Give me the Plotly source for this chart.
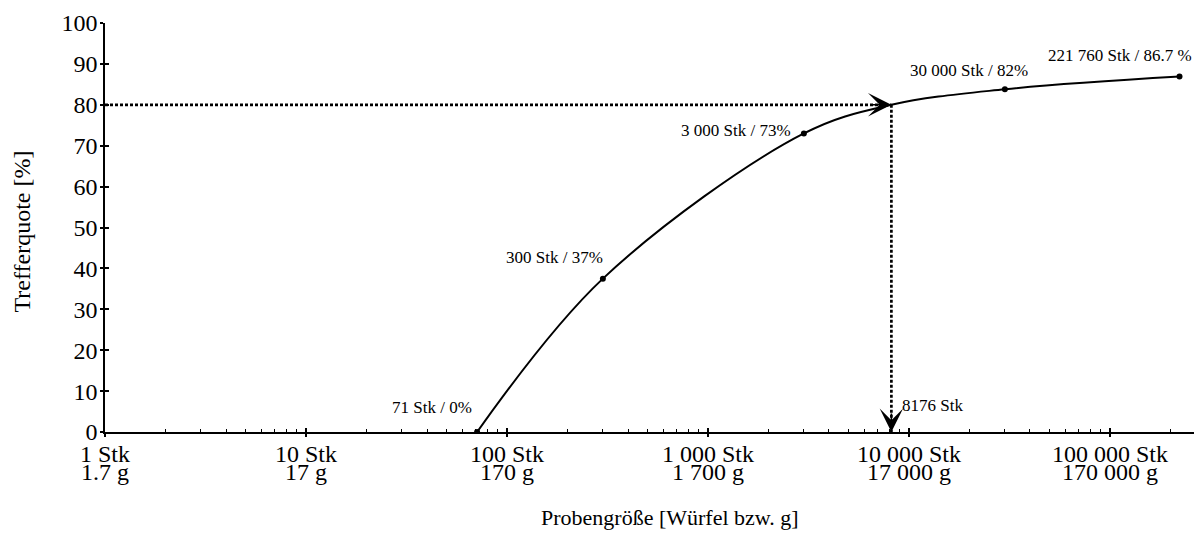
import math
import plotly.graph_objects as go

# ---- data ----
curve_x = [71, 300, 3000, 8176, 30000, 221760]
curve_y = [0, 37.5, 73, 80, 83.8, 86.9]
point_x = [71, 300, 3000, 30000, 221760]
point_y = [0, 37.5, 73, 83.8, 86.9]
point_labels = ["71 Stk / 0%", "300 Stk / 37%", "3 000 Stk / 73%",
                "30 000 Stk / 82%", "221 760 Stk / 86.7 %"]
target_x = 8176
target_y = 80
target_label = "8176 Stk"
x_tickvals = [1, 10, 100, 1000, 10000, 100000]
x_ticktext_stk = ["1 Stk", "10 Stk", "100 Stk", "1 000 Stk", "10 000 Stk", "100 000 Stk"]
x_ticktext_g = ["1.7 g", "17 g", "170 g", "1 700 g", "17 000 g", "170 000 g"]
y_tickvals = [0, 10, 20, 30, 40, 50, 60, 70, 80, 90, 100]

FONT = "Liberation Serif"
x_range = [0, 5.438]
minor_vals = [m * 10 ** d for d in range(0, 6) for m in range(2, 10) if m * 10 ** d <= 10 ** x_range[1]]

DOT = dict(color="black", width=2.7, dash="3px,2px")

fig = go.Figure()

# dotted guide lines
fig.add_trace(go.Scatter(x=[1, target_x], y=[target_y, target_y], mode="lines",
                         line=DOT, hoverinfo="skip", showlegend=False))
fig.add_trace(go.Scatter(x=[target_x, target_x], y=[target_y, 0], mode="lines",
                         line=DOT, hoverinfo="skip", showlegend=False))

# curve
fig.add_trace(go.Scatter(x=curve_x, y=curve_y, mode="lines",
                         line=dict(color="black", width=2, shape="spline", smoothing=1.0),
                         hoverinfo="skip", showlegend=False))
fig.add_trace(go.Scatter(x=point_x, y=point_y, mode="markers",
                         marker=dict(color="black", size=6),
                         showlegend=False))

# overlay trace for crossing ticks
fig.add_trace(go.Scatter(x=[1], y=[0], xaxis="x2", yaxis="y2", mode="markers",
                         marker=dict(opacity=0), hoverinfo="skip", showlegend=False))

annotations = []
# point labels: (xanchor, xshift, yshift)
offsets = [("right", -3, 25), ("right", 2, 21), ("right", -11, 3),
           ("right", 25, 19), ("right", 15, 21)]
for xv, yv, lab, (xa, xs, ys) in zip(point_x, point_y, point_labels, offsets):
    annotations.append(dict(x=math.log10(xv), y=yv, xref="x", yref="y", text=lab,
                            showarrow=False, xanchor=xa, yanchor="middle",
                            xshift=xs, yshift=ys,
                            font=dict(family=FONT, size=17, color="black")))
annotations.append(dict(x=math.log10(target_x), y=0, xref="x", yref="y", text=target_label,
                        showarrow=False, xanchor="left", yanchor="middle",
                        xshift=9, yshift=27,
                        font=dict(family=FONT, size=17, color="black")))
# arrowheads
annotations.append(dict(x=math.log10(target_x), y=target_y, xref="x", yref="y",
                        ax=-20, ay=0, text="", showarrow=True, arrowhead=3,
                        arrowsize=2.6, arrowwidth=1.5, arrowcolor="black", standoff=0))
annotations.append(dict(x=math.log10(target_x), y=0, xref="x", yref="y",
                        ax=0, ay=-20, text="", showarrow=True, arrowhead=3,
                        arrowsize=2.6, arrowwidth=1.5, arrowcolor="black", standoff=0))
# second line of x tick labels
for tv, tg in zip(x_tickvals, x_ticktext_g):
    annotations.append(dict(x=math.log10(tv), y=0, xref="x", yref="paper", text=tg,
                            showarrow=False, xanchor="center", yanchor="middle",
                            yshift=-40, font=dict(family=FONT, size=24, color="black")))
# axis titles
annotations.append(dict(x=0.517, y=0, xref="paper", yref="paper",
                        text="Probengröße [Würfel bzw. g]", showarrow=False,
                        xanchor="center", yanchor="middle", yshift=-85,
                        font=dict(family=FONT, size=22, color="black")))
annotations.append(dict(x=0, y=0.5, xref="paper", yref="paper",
                        text="Trefferquote [%]", showarrow=False, textangle=-90,
                        xanchor="center", yanchor="middle", xshift=-84, yshift=-4,
                        font=dict(family=FONT, size=24, color="black")))

fig.update_layout(
    width=1194, height=540,
    margin=dict(l=97, r=4, t=15, b=116),
    paper_bgcolor="white", plot_bgcolor="white",
    font=dict(family=FONT, size=24, color="black"),
    xaxis=dict(type="log", range=x_range, tickvals=x_tickvals, ticktext=x_ticktext_stk,
               ticks="outside", ticklen=3, tickwidth=1.5, tickcolor="black",
               ticklabelstandoff=-4, automargin=False,
               showline=True, linecolor="black", linewidth=1.5,
               showgrid=False, zeroline=False,
               tickfont=dict(family=FONT, size=24, color="black")),
    yaxis=dict(range=[0, 100], tickvals=y_tickvals,
               ticks="outside", ticklen=3, tickwidth=1.5, tickcolor="black",
               ticklabelstandoff=-2, automargin=False,
               showline=True, linecolor="black", linewidth=1.5,
               showgrid=False, zeroline=False,
               tickfont=dict(family=FONT, size=24, color="black")),
    xaxis2=dict(type="log", range=x_range, overlaying="x", anchor="y2", side="bottom",
                tickvals=x_tickvals, ticks="inside", ticklen=4, tickwidth=1.5,
                tickcolor="black", showticklabels=False, showline=False,
                showgrid=False, zeroline=False, automargin=False,
                minor=dict(tickvals=minor_vals, ticks="inside", ticklen=3,
                           tickwidth=1.2, tickcolor="black", showgrid=False)),
    yaxis2=dict(range=[0, 100], overlaying="y", anchor="x2", side="left",
                tickvals=y_tickvals, ticks="inside", ticklen=4, tickwidth=1.5,
                tickcolor="black", showticklabels=False, showline=False,
                showgrid=False, zeroline=False, automargin=False),
    annotations=annotations,
    showlegend=False,
)

fig.write_html("out.html")
